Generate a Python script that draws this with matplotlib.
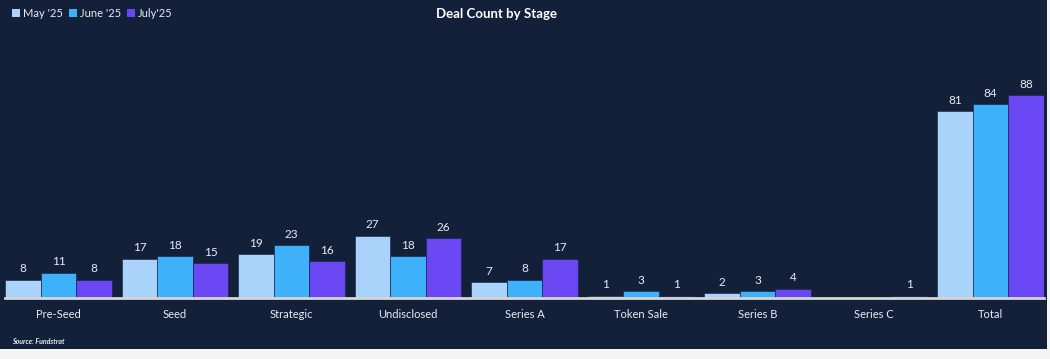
import numpy as np
import matplotlib.pyplot as plt
from matplotlib.patches import Rectangle, Patch

plt.rcParams['font.family'] = ['Lato', 'DejaVu Sans']

stages = ["Pre-Seed", "Seed", "Strategic", "Undisclosed", "Series A",
          "Token Sale", "Series B", "Series C", "Total"]
series_names = ["May '25", "June '25", "July'25"]
may = [8, 17, 19, 27, 7, 1, 2, 0, 81]
june = [11, 18, 23, 18, 8, 3, 3, 0, 84]
july = [8, 15, 16, 26, 17, 1, 4, 1, 88]

colors = ["#a9d3fb", "#3fb1fa", "#6948f3"]
navy = "#12203a"
text_col = "#e8ecf2"

fig = plt.figure(figsize=(10.5, 3.59), dpi=100, facecolor="#f4f4f4")
fig.patches.append(Rectangle((0, 10 / 359), 1047 / 1050, 349 / 359,
                             transform=fig.transFigure, facecolor=navy,
                             edgecolor="none", zorder=-1))
ax = fig.add_axes([5 / 1050, 61 / 359, 1039 / 1050, 258 / 359])
ax.set_facecolor(navy)

x = np.arange(len(stages))
w = 0.305
for i, (vals, c) in enumerate(zip([may, june, july], colors)):
    pos = x + (i - 1) * w
    ax.bar(pos, vals, width=w, color=c, edgecolor=navy, linewidth=0.4)
    for xp, v in zip(pos, vals):
        if v == 0:
            continue
        ax.text(xp, v + 2.3, str(v), ha="center", va="bottom",
                color=text_col, fontsize=8.5)

ax.set_xlim(-0.46, 8.46)
ax.set_ylim(0, 111.8)
ax.set_yticks([])
ax.set_xticks(x)
ax.set_xticklabels(stages, color=text_col, fontsize=8)
ax.tick_params(axis="x", length=0, pad=8)
for s in ["top", "right", "left"]:
    ax.spines[s].set_visible(False)
ax.spines["bottom"].set_color("#d6d6d6")
ax.spines["bottom"].set_linewidth(2)

fig.text(497 / 1050, 1 - 14 / 359, "Deal Count by Stage", ha="center",
         va="center", color="white", fontsize=9.5, fontweight="bold")

handles = [Patch(facecolor=c, edgecolor="none") for c in colors]
fig.legend(handles, series_names, loc="upper left", bbox_to_anchor=(0.004, 1.0),
           ncol=3, frameon=False, fontsize=8, labelcolor=text_col,
           handlelength=0.7, handleheight=0.7, handletextpad=0.25,
           columnspacing=0.6, borderaxespad=0.3)

fig.text(12 / 1050, 1 - 341 / 359, "Source: Fundstrat", color=text_col,
         fontsize=5, fontstyle="italic", fontweight="bold", va="center")

fig.savefig("out.png", dpi=100, facecolor=fig.get_facecolor())
